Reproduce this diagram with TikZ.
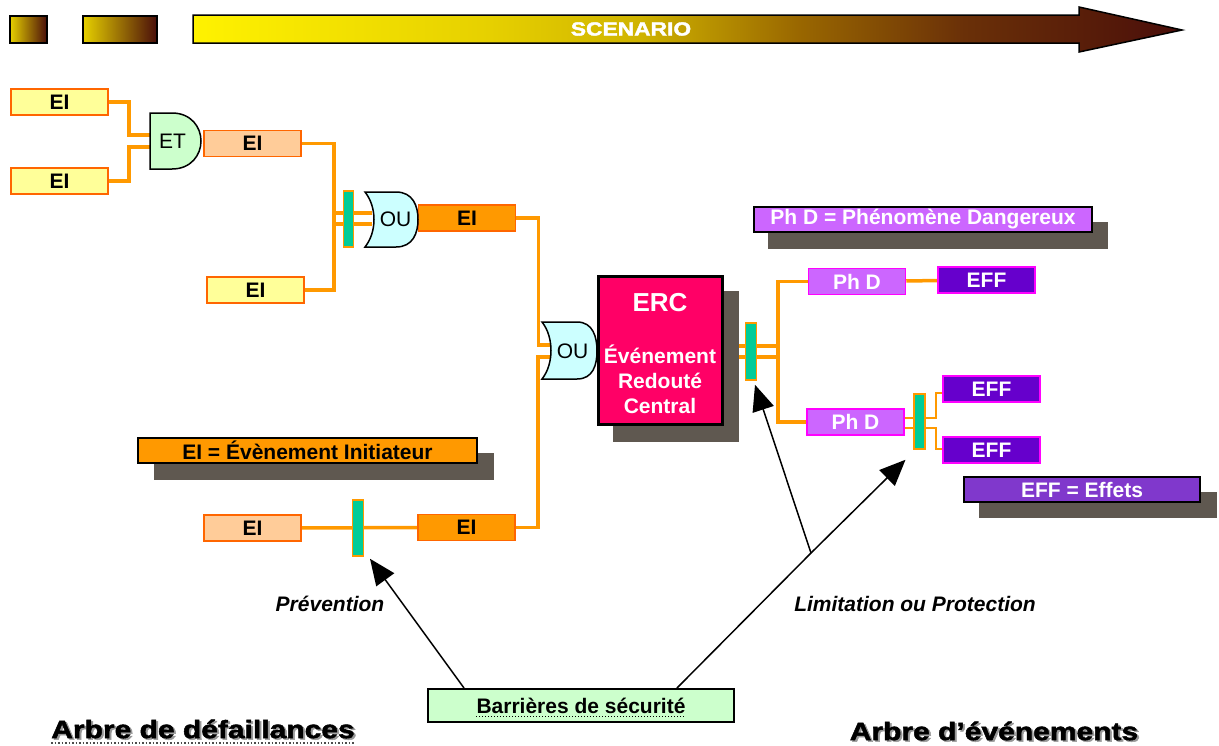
\documentclass[tikz,border=0pt]{standalone}
\usepackage{fontspec}
\setmainfont{Liberation Sans}
\newfontfamily\blackfont{Liberation Sans Bold}[FakeBold=2,FakeStretch=1.2]
\usetikzlibrary{arrows.meta,calc}
\pgfdeclarelayer{bg}
\pgfsetlayers{bg,main}
\definecolor{eiyellow}{HTML}{FFFF99}
\definecolor{eipeach}{HTML}{FFCC99}
\definecolor{eiorange}{HTML}{FF9900}
\definecolor{eibord}{HTML}{FF6600}
\definecolor{connor}{HTML}{FF9900}
\definecolor{etfill}{HTML}{CCFFCC}
\definecolor{oufill}{HTML}{CCFFFF}
\definecolor{barrgreen}{HTML}{00CC99}
\definecolor{ercpink}{HTML}{FF0066}
\definecolor{shadowc}{HTML}{5F5850}
\definecolor{phdfill}{HTML}{CC66FF}
\definecolor{efffill}{HTML}{6600CC}
\definecolor{effleg}{HTML}{8038CC}
\definecolor{magbord}{HTML}{FF00FF}
\definecolor{sc0}{HTML}{FFF200}
\definecolor{sc1}{HTML}{E6D000}
\definecolor{sc2}{HTML}{D0B400}
\definecolor{sc3}{HTML}{9A6800}
\definecolor{sc4}{HTML}{6A3008}
\definecolor{sc5}{HTML}{4A0E0A}
\pgfdeclarehorizontalshading{scen}{100bp}{color(0bp)=(sc0); color(25bp)=(sc0); color(40bp)=(sc1); color(47.5bp)=(sc2); color(55.5bp)=(sc3); color(64bp)=(sc4); color(75bp)=(sc5); color(100bp)=(sc5)}
\begin{document}
\begin{tikzpicture}[x=1pt,y=-1pt,
  txt/.style={font=\bfseries\fontsize{21}{25}\selectfont},
  box/.style={draw, line width=1.5pt, minimum width=97pt, minimum height=26pt, inner sep=0pt, txt},
  eiY/.style={box, draw=eibord, fill=eiyellow},
  eiP/.style={box, draw=eibord, fill=eipeach},
  eiO/.style={box, draw=eibord, fill=eiorange},
  phdbox/.style={box, draw=magbord, fill=phdfill, text=white},
  effbox/.style={box, draw=magbord, fill=efffill, text=white},
  conn/.style={draw=connor, line width=3.5pt},
  thinconn/.style={draw=connor, line width=2.5pt},
  barrier/.style={draw=connor, fill=barrgreen, line width=1.5pt, minimum width=10pt, minimum height=55pt, inner sep=0pt},
  gate/.style={draw=black, line width=1.5pt},
  gatetxt/.style={font=\fontsize{21}{25}\selectfont, inner sep=0pt},
  legend/.style={draw=black, line width=2pt, inner sep=0pt, minimum height=25pt, txt},
  sarrow/.style={draw=black, line width=1.5pt, -{Triangle[length=26pt,width=22pt]}},
  gradbox/.style={draw=black, line width=1.5pt, minimum height=27pt, inner sep=0pt,
     left color=sc1, middle color=sc3, right color=sc5},
  bigtitle/.style={font=\blackfont\fontsize{25}{30}\selectfont, inner sep=0pt}
]
\useasboundingbox (0,0) rectangle (1219,745);

% ---- top scenario band
\node[gradbox, minimum width=37pt] (g1) at (28.5,29.5) {};
\node[gradbox, minimum width=74pt] (g2) at (120,29.5) {};
\shadedraw[shading=scen, draw=black, line width=1.5pt] (193,15) -- (1079,15) -- (1079,7) -- (1182,30) -- (1079,52) -- (1079,43) -- (193,43) -- cycle;
\node[font=\blackfont\fontsize{19}{23}\selectfont, text=white, inner sep=0pt] (scen) at (631,29) {SCENARIO};

% ---- fault tree nodes
\node[eiY] (ei1) at (59.5,102) {EI};
\node[eiY] (ei2) at (59.5,181) {EI};
\node[eiP] (ei3) at (252.5,143.5) {EI};
\node[eiY] (ei4) at (255.5,290) {EI};
\node[eiO] (ei5) at (467,218) {EI};
\node[eiP] (ei6) at (252.5,528) {EI};
\node[eiO] (ei7) at (466.5,527.5) {EI};

\coordinate (etin1) at (150,135);
\coordinate (etin2) at (150,147);
\coordinate (ou1in1) at (372,213);
\coordinate (ou1in2) at (372,224);
\coordinate (ou2in1) at (551,345);
\coordinate (ou2in2) at (551,357);
\coordinate (vl) at ($(ei3.east)+(32,0)$);

% gates
\filldraw[gate, fill=etfill] (150,113) -- (172,113) .. controls (191,113) and (201,127) .. (201,141) .. controls (201,155) and (191,169) .. (172,169) -- (150,169) -- cycle;
\node[gatetxt] (et) at (172.5,141) {ET};
\filldraw[gate, fill=oufill] (365,192) -- (396,192) .. controls (413,192) and (418,206) .. (418,219.5) .. controls (418,233) and (413,247) .. (396,247) -- (365,247) .. controls (377,232) and (377,207) .. (365,192) -- cycle;
\node[gatetxt] (ou1) at (395.5,219.5) {OU};
\filldraw[gate, fill=oufill] (542,322) -- (577,322) .. controls (593,322) and (597,337) .. (597,351) .. controls (597,365) and (593,379) .. (577,379) -- (542,379) .. controls (554,364) and (554,337) .. (542,322) -- cycle;
\node[gatetxt] (ou2) at (572.5,351) {OU};

% barriers
\node[barrier, minimum height=56pt] (bar1) at (348.5,219) {};
\node[barrier, minimum height=56pt, minimum width=11pt] (bar2) at (358,528) {};

% ---- legends
\fill[shadowc] (154,453) rectangle (494,480);
\node[legend, fill=eiorange, minimum width=339pt] (legEI) at (307.5,450.5) {EI = Évènement Initiateur};
\fill[shadowc] (768,222) rectangle (1108,249);
\node[legend, fill=phdfill, text=white, minimum width=338pt] (legPhD) at (923,219.5) {Ph D = Phénomène Dangereux};
\fill[shadowc] (979,492) rectangle (1217,518);
\node[legend, fill=effleg, text=white, minimum width=236pt] (legEFF) at (1082,489.5) {EFF = Effets};

% ---- ERC
\fill[shadowc] (613,291) rectangle (739,442);
\node[draw=black, line width=3pt, fill=ercpink, minimum width=124pt, minimum height=148pt, inner sep=0pt] (erc) at (660,350.5) {};
\node[font=\bfseries\fontsize{26}{30}\selectfont, text=white, inner sep=0pt] (ercT) at (660,303) {ERC};
\node[font=\bfseries\fontsize{21}{25}\selectfont, text=white, align=center, inner sep=0pt] (ercD) at (660,379) {Événement\\Redouté\\Central};

% ---- event tree
\coordinate (vx) at (778,350);
\node[barrier, minimum width=11pt, minimum height=57pt] (bar3) at (751,351.5) {};
\node[phdbox] (phd1) at (857,281.5) {Ph D};
\node[effbox] (eff1) at (986.5,280) {EFF};
\node[phdbox] (phd2) at (855.5,422) {Ph D};
\node[barrier, minimum width=11pt, minimum height=55pt] (bar4) at (919.5,421.5) {};
\node[effbox] (eff2) at (991.5,389) {EFF};
\node[effbox] (eff3) at (991.5,450) {EFF};

% ---- connectors (behind)
\begin{pgfonlayer}{bg}
\draw[conn] (ei1.east) -- ++(20,0) |- (etin1);
\draw[conn] (ei2.east) -- ++(20,0) |- (etin2);
\draw[conn] (ei3.east) -- ++(32,0) |- (ei4.east);
\draw[conn] (vl |- ou1in1) -- (ou1in1);
\draw[conn] (vl |- ou1in2) -- (ou1in2);
\draw[conn] (ei5.east) -- ++(22,0) |- (ou2in1);
\draw[conn] (ei7.east) -- ++(22,0) |- (ou2in2);
\draw[conn] (ei6) -- (ei7);
\draw[conn] ([yshift=4.5pt]erc.east) -- ([yshift=4.5pt]erc.east -| vx);
\draw[conn] ([yshift=-6.5pt]erc.east) -- ([yshift=-6.5pt]erc.east -| vx);
\draw[conn] (phd1.west) -| (vx) |- (phd2.west);
\draw[conn] (phd1) -- (eff1);
\draw[thinconn] ([yshift=4pt]phd2.east) -- ++(31,0) |- ([yshift=-4pt]eff2.west);
\draw[thinconn] ([yshift=-6pt]phd2.east) -- ++(31,0) |- ([yshift=1pt]eff3.west);
\end{pgfonlayer}

% ---- barriers box and arrows
\node[draw=black, line width=2pt, fill=etfill, minimum width=306pt, minimum height=33pt, inner sep=0pt] (barr) at (581,705.5) {};
\node[txt, inner sep=0pt] (barrT) at (581,705.5) {Barrières de sécurité};
\draw[dotted, line width=1pt] ([yshift=-3pt]barrT.base west) -- ([yshift=-3pt]barrT.base east);

\coordinate (s1) at ($(barr.north west)+(37,0)$);
\coordinate (s2) at ($(barr.north west)+(250,0)$);
\coordinate (br) at (811,553);
\coordinate (t1) at ($(bar2.south)+(12,2)$);
\coordinate (t2) at ($(bar3.south)+(4,4)$);
\coordinate (t3) at ($(bar4.south)+(-14,10)$);
\draw[sarrow] (s1) -- (t1);
\draw[draw=black, line width=1.5pt] (s2) -- (br);
\draw[sarrow] (br) -- (t2);
\draw[sarrow] (br) -- (t3);

\node[font=\bfseries\itshape\fontsize{21}{25}\selectfont, inner sep=0pt] (prev) at (330,604) {Prévention};
\node[font=\bfseries\itshape\fontsize{21}{25}\selectfont, inner sep=0pt] (lim) at (915,604) {Limitation ou Protection};

% ---- bottom titles
\node[bigtitle, text=black!40] (t1s) at (205,730.5) {Arbre de défaillances};
\node[bigtitle] (tt1) at (203,729) {Arbre de défaillances};
\draw[dotted, line width=1.5pt, black!70] ([yshift=-5pt]tt1.base west) -- ([yshift=-5pt]tt1.base east);
\node[bigtitle, text=black!40] (t2s) at (996,732.5) {Arbre d’événements};
\node[bigtitle] (tt2) at (994,731) {Arbre d’événements};
\end{tikzpicture}
\end{document}
